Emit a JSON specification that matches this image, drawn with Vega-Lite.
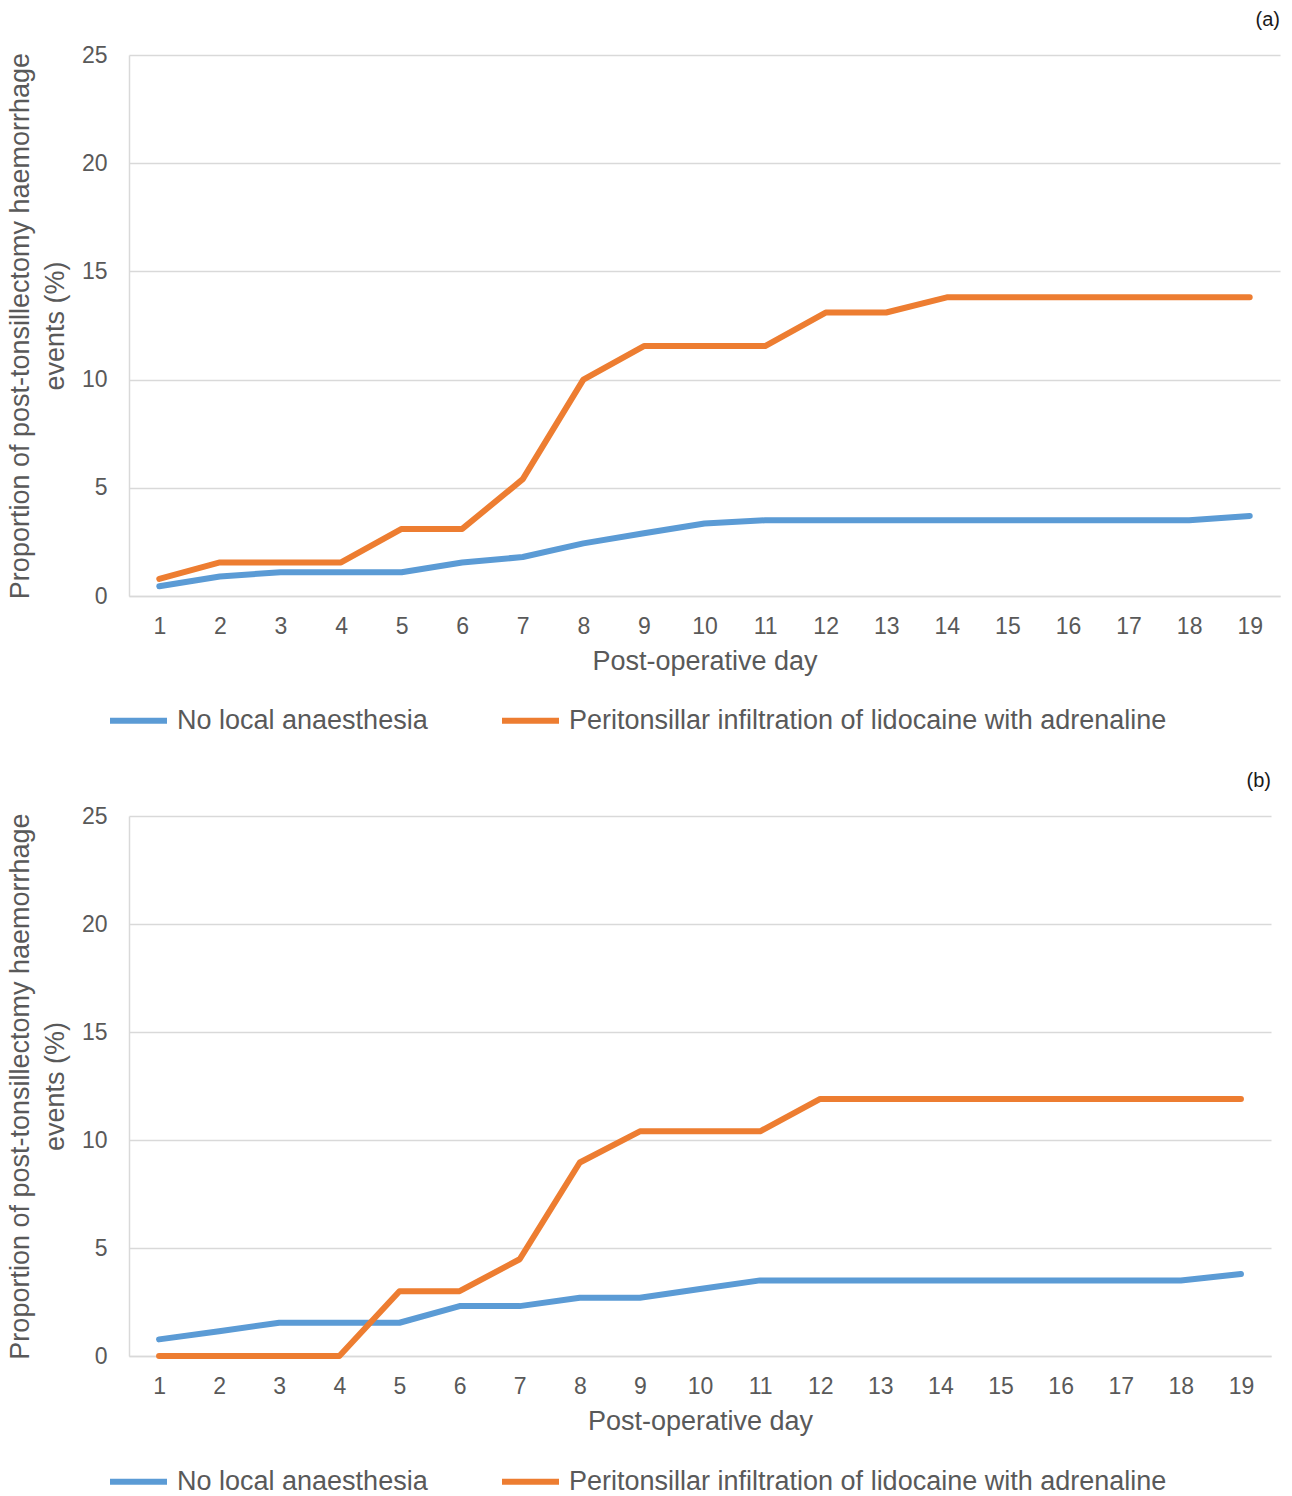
{
  "$schema": "https://vega.github.io/schema/vega-lite/v6.json",
  "background": "white",
  "padding": {"left": 6, "top": 10, "right": 10, "bottom": 0},
  "config": {
    "font": "Liberation Sans",
    "view": {"stroke": null},
    "axis": {"labelColor": "#595959", "titleColor": "#595959", "titleFontWeight": "normal", "ticks": false, "tickSize": 0, "domainColor": "#d9d9d9", "gridColor": "#d9d9d9", "gridWidth": 1.5, "domainWidth": 1.5},
    "title": {"anchor": "end", "fontSize": 20, "fontWeight": "normal", "color": "#1a1a1a", "offset": 14},
    "legend": {"labelColor": "#595959"}
  },
  "datasets": {
    "d": [
      {"panel": "a", "day": 1, "group": "No local anaesthesia", "value": 0.45},
      {"panel": "a", "day": 2, "group": "No local anaesthesia", "value": 0.9},
      {"panel": "a", "day": 3, "group": "No local anaesthesia", "value": 1.1},
      {"panel": "a", "day": 4, "group": "No local anaesthesia", "value": 1.1},
      {"panel": "a", "day": 5, "group": "No local anaesthesia", "value": 1.1},
      {"panel": "a", "day": 6, "group": "No local anaesthesia", "value": 1.55},
      {"panel": "a", "day": 7, "group": "No local anaesthesia", "value": 1.8},
      {"panel": "a", "day": 8, "group": "No local anaesthesia", "value": 2.43},
      {"panel": "a", "day": 9, "group": "No local anaesthesia", "value": 2.9},
      {"panel": "a", "day": 10, "group": "No local anaesthesia", "value": 3.35},
      {"panel": "a", "day": 11, "group": "No local anaesthesia", "value": 3.5},
      {"panel": "a", "day": 12, "group": "No local anaesthesia", "value": 3.5},
      {"panel": "a", "day": 13, "group": "No local anaesthesia", "value": 3.5},
      {"panel": "a", "day": 14, "group": "No local anaesthesia", "value": 3.5},
      {"panel": "a", "day": 15, "group": "No local anaesthesia", "value": 3.5},
      {"panel": "a", "day": 16, "group": "No local anaesthesia", "value": 3.5},
      {"panel": "a", "day": 17, "group": "No local anaesthesia", "value": 3.5},
      {"panel": "a", "day": 18, "group": "No local anaesthesia", "value": 3.5},
      {"panel": "a", "day": 19, "group": "No local anaesthesia", "value": 3.7},
      {"panel": "a", "day": 1, "group": "Peritonsillar infiltration of lidocaine with adrenaline", "value": 0.79},
      {"panel": "a", "day": 2, "group": "Peritonsillar infiltration of lidocaine with adrenaline", "value": 1.55},
      {"panel": "a", "day": 3, "group": "Peritonsillar infiltration of lidocaine with adrenaline", "value": 1.55},
      {"panel": "a", "day": 4, "group": "Peritonsillar infiltration of lidocaine with adrenaline", "value": 1.55},
      {"panel": "a", "day": 5, "group": "Peritonsillar infiltration of lidocaine with adrenaline", "value": 3.1},
      {"panel": "a", "day": 6, "group": "Peritonsillar infiltration of lidocaine with adrenaline", "value": 3.1},
      {"panel": "a", "day": 7, "group": "Peritonsillar infiltration of lidocaine with adrenaline", "value": 5.4},
      {"panel": "a", "day": 8, "group": "Peritonsillar infiltration of lidocaine with adrenaline", "value": 10.0},
      {"panel": "a", "day": 9, "group": "Peritonsillar infiltration of lidocaine with adrenaline", "value": 11.55},
      {"panel": "a", "day": 10, "group": "Peritonsillar infiltration of lidocaine with adrenaline", "value": 11.55},
      {"panel": "a", "day": 11, "group": "Peritonsillar infiltration of lidocaine with adrenaline", "value": 11.55},
      {"panel": "a", "day": 12, "group": "Peritonsillar infiltration of lidocaine with adrenaline", "value": 13.1},
      {"panel": "a", "day": 13, "group": "Peritonsillar infiltration of lidocaine with adrenaline", "value": 13.1},
      {"panel": "a", "day": 14, "group": "Peritonsillar infiltration of lidocaine with adrenaline", "value": 13.8},
      {"panel": "a", "day": 15, "group": "Peritonsillar infiltration of lidocaine with adrenaline", "value": 13.8},
      {"panel": "a", "day": 16, "group": "Peritonsillar infiltration of lidocaine with adrenaline", "value": 13.8},
      {"panel": "a", "day": 17, "group": "Peritonsillar infiltration of lidocaine with adrenaline", "value": 13.8},
      {"panel": "a", "day": 18, "group": "Peritonsillar infiltration of lidocaine with adrenaline", "value": 13.8},
      {"panel": "a", "day": 19, "group": "Peritonsillar infiltration of lidocaine with adrenaline", "value": 13.8},
      {"panel": "b", "day": 1, "group": "No local anaesthesia", "value": 0.77},
      {"panel": "b", "day": 2, "group": "No local anaesthesia", "value": 1.15},
      {"panel": "b", "day": 3, "group": "No local anaesthesia", "value": 1.54},
      {"panel": "b", "day": 4, "group": "No local anaesthesia", "value": 1.54},
      {"panel": "b", "day": 5, "group": "No local anaesthesia", "value": 1.54},
      {"panel": "b", "day": 6, "group": "No local anaesthesia", "value": 2.31},
      {"panel": "b", "day": 7, "group": "No local anaesthesia", "value": 2.31},
      {"panel": "b", "day": 8, "group": "No local anaesthesia", "value": 2.7},
      {"panel": "b", "day": 9, "group": "No local anaesthesia", "value": 2.7},
      {"panel": "b", "day": 10, "group": "No local anaesthesia", "value": 3.1},
      {"panel": "b", "day": 11, "group": "No local anaesthesia", "value": 3.5},
      {"panel": "b", "day": 12, "group": "No local anaesthesia", "value": 3.5},
      {"panel": "b", "day": 13, "group": "No local anaesthesia", "value": 3.5},
      {"panel": "b", "day": 14, "group": "No local anaesthesia", "value": 3.5},
      {"panel": "b", "day": 15, "group": "No local anaesthesia", "value": 3.5},
      {"panel": "b", "day": 16, "group": "No local anaesthesia", "value": 3.5},
      {"panel": "b", "day": 17, "group": "No local anaesthesia", "value": 3.5},
      {"panel": "b", "day": 18, "group": "No local anaesthesia", "value": 3.5},
      {"panel": "b", "day": 19, "group": "No local anaesthesia", "value": 3.8},
      {"panel": "b", "day": 1, "group": "Peritonsillar infiltration of lidocaine with adrenaline", "value": 0},
      {"panel": "b", "day": 2, "group": "Peritonsillar infiltration of lidocaine with adrenaline", "value": 0},
      {"panel": "b", "day": 3, "group": "Peritonsillar infiltration of lidocaine with adrenaline", "value": 0},
      {"panel": "b", "day": 4, "group": "Peritonsillar infiltration of lidocaine with adrenaline", "value": 0},
      {"panel": "b", "day": 5, "group": "Peritonsillar infiltration of lidocaine with adrenaline", "value": 3.0},
      {"panel": "b", "day": 6, "group": "Peritonsillar infiltration of lidocaine with adrenaline", "value": 3.0},
      {"panel": "b", "day": 7, "group": "Peritonsillar infiltration of lidocaine with adrenaline", "value": 4.48},
      {"panel": "b", "day": 8, "group": "Peritonsillar infiltration of lidocaine with adrenaline", "value": 8.96},
      {"panel": "b", "day": 9, "group": "Peritonsillar infiltration of lidocaine with adrenaline", "value": 10.4},
      {"panel": "b", "day": 10, "group": "Peritonsillar infiltration of lidocaine with adrenaline", "value": 10.4},
      {"panel": "b", "day": 11, "group": "Peritonsillar infiltration of lidocaine with adrenaline", "value": 10.4},
      {"panel": "b", "day": 12, "group": "Peritonsillar infiltration of lidocaine with adrenaline", "value": 11.9},
      {"panel": "b", "day": 13, "group": "Peritonsillar infiltration of lidocaine with adrenaline", "value": 11.9},
      {"panel": "b", "day": 14, "group": "Peritonsillar infiltration of lidocaine with adrenaline", "value": 11.9},
      {"panel": "b", "day": 15, "group": "Peritonsillar infiltration of lidocaine with adrenaline", "value": 11.9},
      {"panel": "b", "day": 16, "group": "Peritonsillar infiltration of lidocaine with adrenaline", "value": 11.9},
      {"panel": "b", "day": 17, "group": "Peritonsillar infiltration of lidocaine with adrenaline", "value": 11.9},
      {"panel": "b", "day": 18, "group": "Peritonsillar infiltration of lidocaine with adrenaline", "value": 11.9},
      {"panel": "b", "day": 19, "group": "Peritonsillar infiltration of lidocaine with adrenaline", "value": 11.9}
    ]
  },
  "resolve": {"legend": {"color": "independent"}},
  "spacing": 37,
  "vconcat": [
    {
      "title": "(a)",
      "width": 1151,
      "height": 541,
      "data": {"name": "d"},
      "transform": [{"filter": "datum.panel === 'a'"}],
      "mark": {"type": "line", "strokeWidth": 6, "strokeCap": "round", "strokeJoin": "round"},
      "encoding": {
        "x": {"field": "day", "type": "ordinal", "scale": {"type": "point", "padding": 0.5}, "axis": {"labelAngle": 0, "labelFontSize": 23, "labelPadding": 19, "title": "Post-operative day", "titleFontSize": 27, "titlePadding": 10, "domain": true}},
        "y": {"field": "value", "type": "quantitative", "scale": {"domain": [0, 25]}, "axis": {"values": [0, 5, 10, 15, 20, 25], "labelFontSize": 23, "labelPadding": 22, "title": ["Proportion of post-tonsillectomy haemorrhage", "events (%)"], "titleFontSize": 27, "titleLineHeight": 35, "titlePadding": 12}},
        "color": {"field": "group", "type": "nominal", "scale": {"domain": ["No local anaesthesia", "Peritonsillar infiltration of lidocaine with adrenaline"], "range": ["#5B9BD5", "#ED7D31"]}, "legend": {"title": null, "orient": "none", "legendX": -22, "legendY": 634, "direction": "horizontal", "symbolType": "stroke", "symbolSize": 3249, "symbolStrokeWidth": 6, "labelFontSize": 27, "labelOffset": 7, "columnPadding": 62, "labelLimit": 1000}}
      }
    },
    {
      "title": "(b)",
      "width": 1142,
      "height": 540,
      "data": {"name": "d"},
      "transform": [{"filter": "datum.panel === 'b'"}],
      "mark": {"type": "line", "strokeWidth": 6, "strokeCap": "round", "strokeJoin": "round"},
      "encoding": {
        "x": {"field": "day", "type": "ordinal", "scale": {"type": "point", "padding": 0.5}, "axis": {"labelAngle": 0, "labelFontSize": 23, "labelPadding": 19, "title": "Post-operative day", "titleFontSize": 27, "titlePadding": 10, "domain": true}},
        "y": {"field": "value", "type": "quantitative", "scale": {"domain": [0, 25]}, "axis": {"values": [0, 5, 10, 15, 20, 25], "labelFontSize": 23, "labelPadding": 22, "title": ["Proportion of post-tonsillectomy haemorrhage", "events (%)"], "titleFontSize": 27, "titleLineHeight": 35, "titlePadding": 12}},
        "color": {"field": "group", "type": "nominal", "scale": {"domain": ["No local anaesthesia", "Peritonsillar infiltration of lidocaine with adrenaline"], "range": ["#5B9BD5", "#ED7D31"]}, "legend": {"title": null, "orient": "none", "legendX": -22, "legendY": 634, "direction": "horizontal", "symbolType": "stroke", "symbolSize": 3249, "symbolStrokeWidth": 6, "labelFontSize": 27, "labelOffset": 7, "columnPadding": 62, "labelLimit": 1000}}
      }
    }
  ]
}
